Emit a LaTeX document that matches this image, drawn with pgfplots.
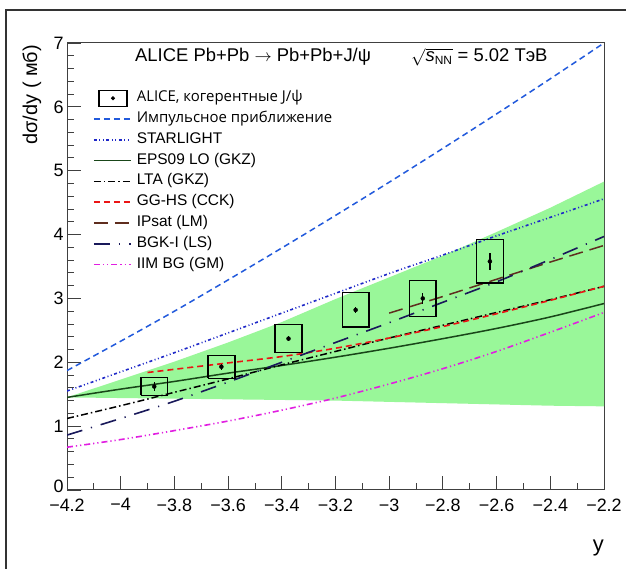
\documentclass[border=0pt]{standalone}
\usepackage{fontspec}
\setmainfont{Liberation Sans}
\newfontfamily\osans{Open Sans}
\usepackage{pgfplots}
\pgfplotsset{compat=1.18}
\usepackage{pgfplotstable}

\definecolor{bandgreen}{RGB}{153,247,153}
\definecolor{impblue}{RGB}{34,90,220}
\definecolor{starblue}{RGB}{30,40,200}
\definecolor{epsgreen}{RGB}{25,70,25}
\definecolor{ggred}{RGB}{235,20,20}
\definecolor{ipbrown}{RGB}{95,45,30}
\definecolor{bgknavy}{RGB}{25,25,90}
\definecolor{iimmag}{RGB}{225,30,225}

\pgfplotstableread{
x y stat
-3.875 1.62 0.07
-3.625 1.93 0.05
-3.375 2.37 0.04
-3.125 2.82 0.05
-2.875 3.00 0.08
-2.625 3.58 0.13
}\alicedata

\begin{document}
\begin{tikzpicture}
\useasboundingbox (0,0) rectangle (626bp,569bp);
\fill[white] (0,0) rectangle (626bp,569bp);
\draw[line width=1.6bp, black!80] (6bp,0) -- (6bp,559bp) -- (626bp,559bp);
\begin{axis}[
  at={(67bp,79bp)}, anchor=south west,
  scale only axis, width=537bp, height=447bp,
  xmin=-4.2, xmax=-2.2, ymin=0, ymax=7,
  axis line style={black!75, line width=1bp},
  tick pos=left, tick align=inside,
  major tick length=14bp, minor tick length=7bp,
  every tick/.style={black!75, line width=0.9bp},
  xtick={-4.2,-4,-3.8,-3.6,-3.4,-3.2,-3,-2.8,-2.6,-2.4,-2.2},
  xticklabels={−4.2,−4,−3.8,−3.6,−3.4,−3.2,−3,−2.8,−2.6,−2.4,−2.2},
  minor x tick num=1,
  ytick={0,1,2,3,4,5,6,7},
  yticklabels={\raisebox{7bp}{0},1,2,3,4,5,6,7},
  minor y tick num=4,
  tick label style={font=\fontsize{18}{20}\selectfont},
  xticklabel style={yshift=-5bp},
  legend image code/.code={\draw[#1] (0bp,0bp) -- (37bp,0bp);},
  legend cell align=left,
  legend style={draw=none, fill=none, at={(0.0484,0.898)}, anchor=north west,
    inner sep=0pt, row sep=1.8bp, column sep=3bp,
    font=\fontsize{15.5}{18}\selectfont,
    nodes={inner sep=2bp, text height=11bp, text depth=4bp}},
]
% green band (no legend entry)
\addplot[forget plot, fill=bandgreen, draw=none] coordinates {
(-4.2,1.45) (-4.0,1.73) (-3.8,2.01) (-3.6,2.31) (-3.4,2.63) (-3.2,2.99) (-3.0,3.33) (-2.8,3.67) (-2.6,4.04) (-2.4,4.42) (-2.2,4.83)
(-2.2,1.31) (-2.4,1.32) (-2.6,1.34) (-2.8,1.36) (-3.0,1.38) (-3.2,1.40) (-3.4,1.41) (-3.6,1.42) (-3.8,1.43) (-4.0,1.44) (-4.2,1.45)
} -- cycle;

\addlegendimage{legend image code/.code={\draw[black, line width=1.4bp] (5bp,-8bp) rectangle (33bp,8bp); \fill[black] (19bp,0bp) circle (1.8bp);}}
\addlegendentry{\osans\fontsize{15}{18}\selectfont ALICE, когерентные J/ψ}

\addplot[impblue, line width=1.5bp, dash pattern=on 6bp off 4bp, smooth] coordinates {
(-4.2,1.87) (-4.0,2.33) (-3.8,2.80) (-3.6,3.29) (-3.4,3.79) (-3.2,4.30) (-3.0,4.82) (-2.8,5.35) (-2.6,5.89) (-2.4,6.44) (-2.2,7.0)};
\addlegendentry{\osans\fontsize{15}{18}\selectfont Импульсное приближение}

\addplot[starblue, line width=1.6bp, dash pattern=on 3bp off 2.5bp on 1bp off 2.5bp on 1bp off 2.5bp, smooth] coordinates {
(-4.2,1.55) (-4.0,1.85) (-3.8,2.15) (-3.6,2.46) (-3.4,2.77) (-3.2,3.08) (-3.0,3.39) (-2.8,3.68) (-2.6,3.98) (-2.4,4.27) (-2.2,4.56)};
\addlegendentry{STARLIGHT}

\addplot[epsgreen, line width=1.5bp, smooth] coordinates {
(-4.2,1.45) (-4.0,1.58) (-3.8,1.70) (-3.6,1.83) (-3.4,1.95) (-3.2,2.08) (-3.0,2.22) (-2.8,2.37) (-2.6,2.53) (-2.4,2.71) (-2.2,2.92)};
\addlegendentry{EPS09 LO (GKZ)}

\addplot[black, line width=1.5bp, dash pattern=on 7bp off 3bp on 1.5bp off 3bp, smooth] coordinates {
(-4.2,1.12) (-4.0,1.32) (-3.8,1.53) (-3.6,1.74) (-3.4,1.96) (-3.2,2.17) (-3.0,2.38) (-2.8,2.58) (-2.6,2.78) (-2.4,2.98) (-2.2,3.19)};
\addlegendentry{LTA (GKZ)}

\addplot[ggred, line width=1.6bp, dash pattern=on 6bp off 4bp, smooth] coordinates {
(-3.9,1.84) (-3.8,1.89) (-3.6,1.99) (-3.4,2.09) (-3.2,2.22) (-3.0,2.38) (-2.8,2.56) (-2.6,2.76) (-2.4,2.97) (-2.2,3.19)};
\addlegendentry{GG-HS (CCK)}

\addplot[ipbrown, line width=1.5bp, dash pattern=on 14bp off 7bp] coordinates {
(-3.0,2.77) (-2.8,3.03) (-2.6,3.30) (-2.4,3.57) (-2.2,3.83)};
\addlegendentry{IPsat (LM)}

\addplot[bgknavy, line width=1.6bp, dash pattern=on 16bp off 9bp on 1.2bp off 9bp, smooth] coordinates {
(-4.2,0.86) (-4.0,1.12) (-3.8,1.39) (-3.6,1.69) (-3.4,2.00) (-3.2,2.31) (-3.0,2.62) (-2.8,2.94) (-2.6,3.26) (-2.4,3.61) (-2.2,3.97)};
\addlegendentry{BGK-I (LS)}

\addplot[iimmag, line width=1.6bp, dash pattern=on 6bp off 3bp on 1.2bp off 3bp on 1.2bp off 3bp, smooth] coordinates {
(-4.2,0.67) (-4.0,0.79) (-3.8,0.93) (-3.6,1.08) (-3.4,1.25) (-3.2,1.44) (-3.0,1.66) (-2.8,1.90) (-2.6,2.17) (-2.4,2.47) (-2.2,2.78)};
\addlegendentry{IIM BG (GM)}

% ALICE systematic boxes
\addplot[forget plot, black, line width=1.4bp, unbounded coords=jump] coordinates {
(-3.925,1.48) (-3.825,1.48) (-3.825,1.76) (-3.925,1.76) (-3.925,1.48) (nan,nan)
(-3.675,1.75) (-3.575,1.75) (-3.575,2.11) (-3.675,2.11) (-3.675,1.75) (nan,nan)
(-3.425,2.15) (-3.325,2.15) (-3.325,2.59) (-3.425,2.59) (-3.425,2.15) (nan,nan)
(-3.175,2.55) (-3.075,2.55) (-3.075,3.09) (-3.175,3.09) (-3.175,2.55) (nan,nan)
(-2.925,2.72) (-2.825,2.72) (-2.825,3.28) (-2.925,3.28) (-2.925,2.72) (nan,nan)
(-2.675,3.24) (-2.575,3.24) (-2.575,3.92) (-2.675,3.92) (-2.675,3.24)
};
% ALICE points with statistical errors
\addplot[forget plot, only marks, mark=*, mark size=2bp, black,
  error bars/.cd, y dir=both, y explicit, error mark=none,
  error bar style={line width=1.4bp, black}]
  table[x=x, y=y, y error=stat] {\alicedata};
\end{axis}
\node[anchor=west, inner sep=0pt, font=\fontsize{18.5}{20}\selectfont] at (135bp,512bp) {ALICE Pb+Pb $\rightarrow$ Pb+Pb+J/ψ};
\node[anchor=west, inner sep=0pt, font=\fontsize{18.5}{20}\selectfont] at (411bp,512bp) {$\sqrt{\mbox{\itshape s}_{\mbox{\fontsize{12}{12}\selectfont NN}}}$ = 5.02 ТэВ};
\node[rotate=90, anchor=east, inner sep=0pt, font=\fontsize{20}{22}\selectfont] at (32bp,524bp) {dσ/dy ( мб)};
\node[anchor=east, inner sep=0pt, font=\fontsize{22}{24}\selectfont] at (604bp,21bp) {y};
\end{tikzpicture}
\end{document}
